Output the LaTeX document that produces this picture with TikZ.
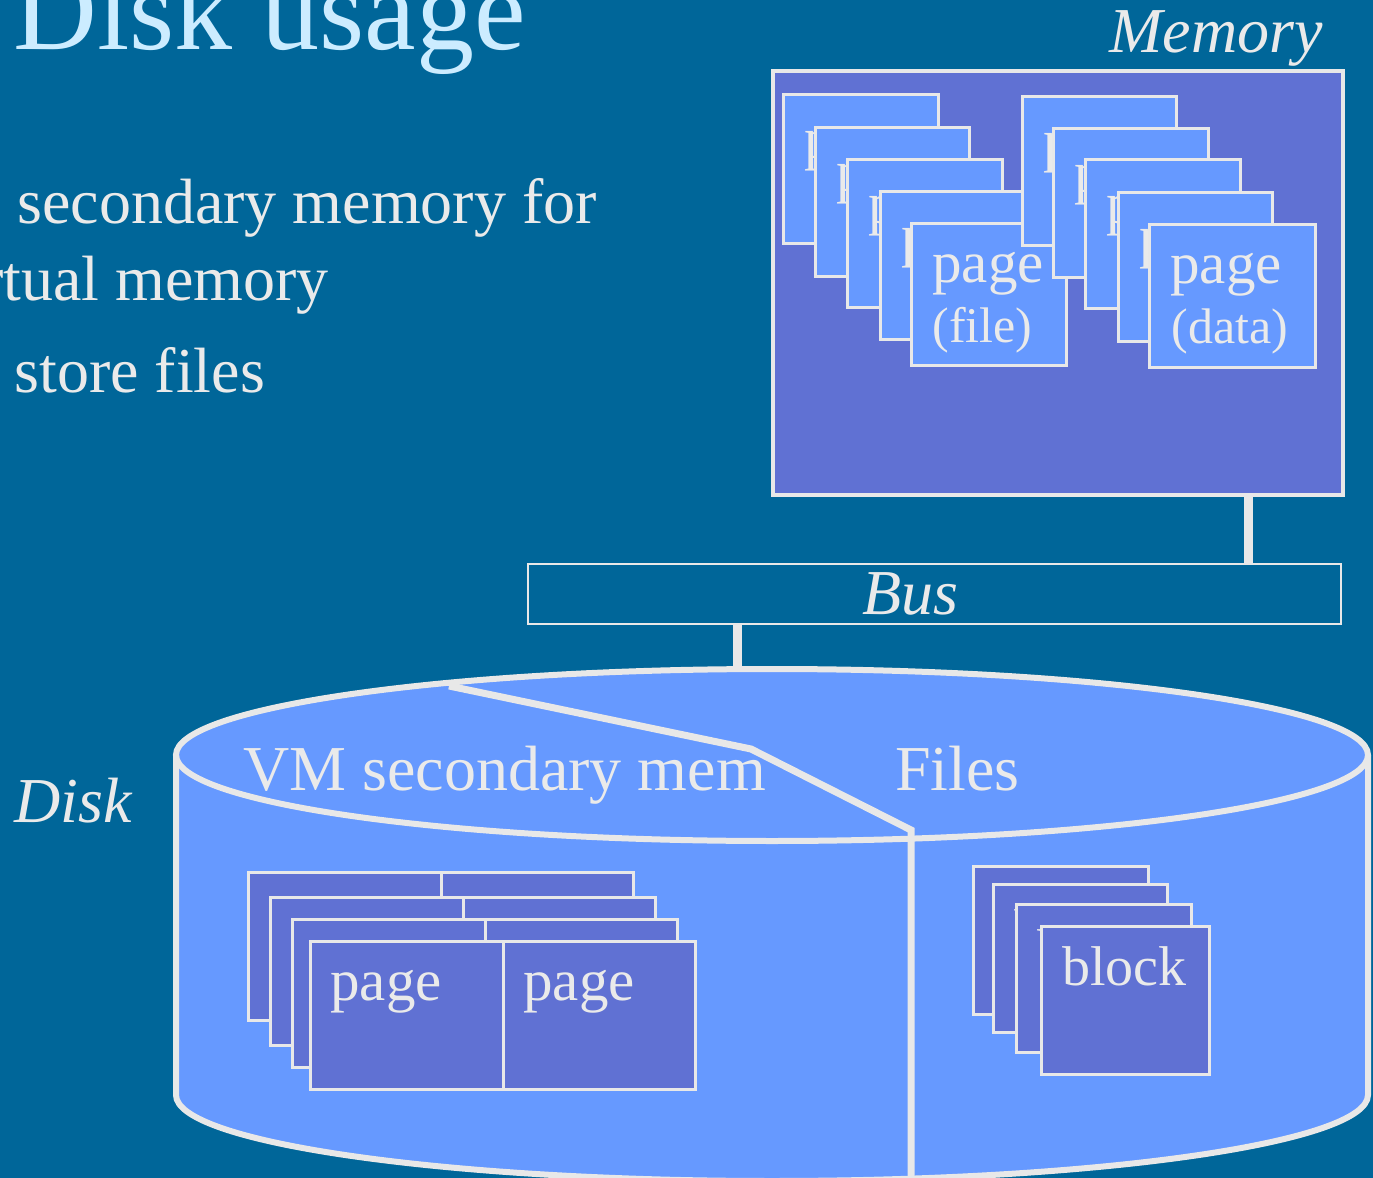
\documentclass[tikz,border=0pt]{standalone}
\usepackage{fontspec}
\setmainfont{Liberation Serif}
\definecolor{slidebg}{RGB}{0,102,153}
\definecolor{titlecyan}{RGB}{204,236,255}
\definecolor{ink}{RGB}{234,234,234}
\definecolor{edge}{RGB}{232,232,232}
\definecolor{violetblue}{RGB}{96,113,211}
\definecolor{skyblue}{RGB}{102,153,255}

\begin{document}
\begin{tikzpicture}[x=0.5pt,y=-0.5pt,
  txt/.style={text=ink, inner sep=0pt, anchor=base west, font=\fontsize{32}{38}\selectfont},
  lbl/.style={txt, font=\fontsize{32}{38}\selectfont\itshape},
  pagetxt/.style={txt, font=\fontsize{29.5}{34}\selectfont},
  subtxt/.style={txt, font=\fontsize{25}{30}\selectfont},
  blocktxt/.style={txt, font=\fontsize{28}{32}\selectfont},
  membox/.style={draw=edge, fill=violetblue, line width=2pt, inner sep=0pt,
                 minimum width=285pt, minimum height=212pt},
  busbox/.style={draw=edge, line width=1pt, inner sep=0pt,
                 minimum width=406.5pt, minimum height=30pt},
  mpage/.style={draw=edge, fill=skyblue, line width=1.5pt},
  dpage/.style={draw=edge, fill=violetblue, line width=1.5pt},
  conn/.style={draw=edge, line width=4.5pt},
  cyl/.style={draw=edge, line width=3pt},
  divider/.style={draw=edge, line width=3.5pt}
]
% page area and background
\useasboundingbox (0,0) rectangle (1373,1178);
\fill[slidebg] (0,0) rectangle (1373,1178);
\clip (0,0) rectangle (1373,1178);

% heading and bullet text
\node[txt, text=titlecyan, font=\fontsize{58}{64}\selectfont] (title) at (13,49) {Disk usage};
\node[txt] (bullet1) at (17,223) {secondary memory for};
\node[txt, anchor=base east] (bullet2) at (329,300) {rtual memory};
\node[txt] (bullet3) at (14,392) {store files};

% main memory with two stacks of pages
\node[membox] (mem) at (1057.5,282.5) {};
\node[lbl] (memlabel) at (1109,53) {Memory};

\foreach \i/\xa/\ya/\xb/\yb/\dy in {1/783/94/938/243/64, 2/815/127/969/276/64,
    3/847/159/1002/307/64, 4/880/191/1034/339/64, 5/911/223/1066/365/59}{
  \draw[mpage] (\xa,\ya) rectangle (\xb,\yb);
  \node[pagetxt] (fp\i) at (\xa+21,\ya+\dy) {page};
}
\node[subtxt] (fpsub) at (932,342) {(file)};

\foreach \i/\xa/\ya/\xb/\yb/\dy in {1/1022/96/1176/245/64, 2/1053/128/1208/277/64,
    3/1085/159/1240/308/64, 4/1118/192/1272/341/64, 5/1149/224/1315/367/59}{
  \draw[mpage] (\xa,\ya) rectangle (\xb,\yb);
  \node[pagetxt] (dp\i) at (\xa+21,\ya+\dy) {page};
}
\node[subtxt] (dpsub) at (1171,343) {(data)};

% bus
\node[busbox] (bus) at (934.5,594) {};
\node[lbl] (buslabel) at (862,614) {Bus};

% disk cylinder
\fill[skyblue] (176,755) rectangle (1368,1095);
\fill[skyblue] (772,1095) ellipse[x radius=596, y radius=86];
\fill[skyblue] (772,755) ellipse[x radius=596, y radius=86];
\draw[cyl] (176,755) -- (176,1095)
  arc[start angle=180, end angle=0, x radius=596, y radius=86] -- (1368,755);
\draw[cyl] (772,755) ellipse[x radius=596, y radius=86];
\draw[divider] (449,686) -- (751,749) -- (911,830) -- (911,1200);

\node[txt] (vmlabel) at (243,790) {VM secondary mem};
\node[txt] (fileslabel) at (895,790) {Files};
\node[lbl] (disklabel) at (14,822) {Disk};

% swap pages on disk
\foreach \xa/\ya in {248/872, 270/897, 292/919, 310/941}{
  \draw[dpage] (\xa,\ya) rectangle ++(193,148);
  \draw[dpage] (\xa+193,\ya) rectangle ++(192,148);
}
\node[pagetxt] (swapl) at (330,1000) {page};
\node[pagetxt] (swapr) at (523,1000) {page};

% file blocks on disk
\foreach \i/\xa/\ya/\xb/\yb/\dy in {1/973/866/1148/1014/64, 2/993/884/1167/1032/64,
    3/1016/904/1191/1052/64, 4/1041/926/1209/1074/59}{
  \draw[dpage] (\xa,\ya) rectangle (\xb,\yb);
  \node[blocktxt] (blk\i) at (\xa+21,\ya+\dy) {block};
}

% connections memory - bus - disk
\coordinate (memtap) at (1248,0);
\coordinate (disktop) at (737,670);
\draw[conn] (mem.south -| memtap) -- (bus.north -| memtap);
\draw[conn] (bus.south -| disktop) -- (disktop);
\end{tikzpicture}
\end{document}
